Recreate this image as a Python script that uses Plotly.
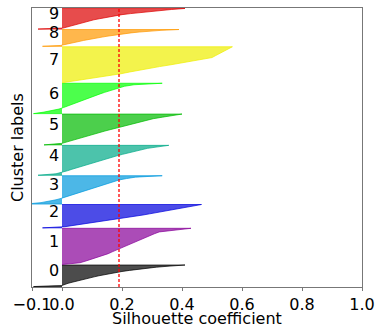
import plotly.graph_objects as go

# ---- data ----
cluster_labels = ["0", "1", "2", "3", "4", "5", "6", "7", "8", "9"]
cluster_sizes = [475, 800, 515, 625, 660, 680, 670, 795, 370, 455]

# sorted silhouette values per cluster, sampled at 21 evenly spaced quantiles (low -> high)
sil_0 = [-0.095, 0.0, 0.008, 0.02, 0.034, 0.047, 0.06, 0.077, 0.092, 0.107, 0.123,
         0.14, 0.16, 0.178, 0.20, 0.225, 0.25, 0.283, 0.315, 0.36, 0.41]
sil_1 = [0.0, 0.06, 0.08, 0.10, 0.12, 0.14, 0.154, 0.167, 0.181, 0.195, 0.208,
         0.221, 0.234, 0.247, 0.26, 0.276, 0.292, 0.308, 0.324, 0.37, 0.43]
sil_2 = [-0.065, 0.01, 0.037, 0.06, 0.086, 0.115, 0.147, 0.178, 0.203, 0.226, 0.248,
         0.27, 0.292, 0.315, 0.338, 0.36, 0.383, 0.405, 0.425, 0.445, 0.465]
sil_3 = [-0.12, -0.07, -0.04, -0.02, -0.003, 0.012, 0.027, 0.041, 0.056, 0.07, 0.085,
         0.10, 0.115, 0.13, 0.145, 0.16, 0.175, 0.19, 0.215, 0.245, 0.334]
sil_4 = [-0.08, -0.02, 0.003, 0.018, 0.033, 0.049, 0.064, 0.079, 0.095, 0.112, 0.13,
         0.148, 0.165, 0.183, 0.202, 0.223, 0.243, 0.263, 0.285, 0.32, 0.356]
sil_5 = [-0.06, 0.0, 0.017, 0.034, 0.051, 0.068, 0.085, 0.104, 0.124, 0.143, 0.163,
         0.182, 0.202, 0.22, 0.24, 0.262, 0.283, 0.304, 0.335, 0.365, 0.40]
sil_6 = [-0.095, -0.06, -0.03, -0.01, 0.005, 0.018, 0.031, 0.044, 0.057, 0.07, 0.083,
         0.097, 0.112, 0.127, 0.142, 0.157, 0.172, 0.187, 0.208, 0.24, 0.334]
sil_7 = [0.0, 0.04, 0.085, 0.123, 0.16, 0.196, 0.226, 0.256, 0.288, 0.325, 0.363,
         0.40, 0.435, 0.468, 0.50, 0.511, 0.522, 0.533, 0.543, 0.555, 0.568]
sil_8 = [-0.065, -0.005, 0.01, 0.022, 0.035, 0.048, 0.06, 0.072, 0.085, 0.10, 0.118,
         0.134, 0.15, 0.167, 0.183, 0.205, 0.23, 0.257, 0.285, 0.33, 0.39]
sil_9 = [-0.08, 0.004, 0.016, 0.028, 0.04, 0.052, 0.064, 0.076, 0.088, 0.106, 0.124,
         0.142, 0.161, 0.18, 0.20, 0.228, 0.258, 0.288, 0.325, 0.365, 0.41]
silhouette_values = [sil_0, sil_1, sil_2, sil_3, sil_4, sil_5, sil_6, sil_7, sil_8, sil_9]
silhouette_avg = 0.19

x_tick_values = [-0.1, 0.0, 0.2, 0.4, 0.6, 0.8, 1.0]

# nipy_spectral(i / 10)
cluster_colors = [(0, 0, 0), (136, 0, 153), (0, 0, 221), (0, 153, 221), (0, 170, 136),
                  (0, 187, 0), (0, 255, 0), (238, 238, 0), (255, 153, 0), (221, 0, 0)]

# ---- figure ----
fig = go.Figure()
gap = 10
y_lower = gap
annotations = []
for lab, size, vals, col in zip(cluster_labels, cluster_sizes, silhouette_values, cluster_colors):
    n = len(vals)
    ys = [y_lower + size * k / (n - 1) for k in range(n)]
    y_upper = y_lower + size
    rgba = "rgba(%d,%d,%d,0.7)" % col
    fig.add_trace(go.Scatter(
        x=[0] + vals + [0], y=[y_lower] + ys + [y_upper],
        mode="lines", fill="toself", fillcolor=rgba,
        line=dict(color=rgba, width=1), hoverinfo="skip", showlegend=False))
    annotations.append(dict(x=-0.05, y=y_lower + 0.5 * size, text=lab, xref="x", yref="y",
                            xanchor="left", yanchor="middle", yshift=5, showarrow=False,
                            font=dict(size=16, color="black", family="DejaVu Sans")))
    y_lower = y_upper + gap

y_max = sum(cluster_sizes) + (len(cluster_sizes) + 1) * gap

annotations.append(dict(x=0.5, y=0, xref="paper", yref="paper", text="Silhouette coefficient",
                        xanchor="center", yanchor="top", yshift=-20, showarrow=False,
                        font=dict(size=16, color="black", family="DejaVu Sans")))
annotations.append(dict(x=0, y=0.5, xref="paper", yref="paper", text="Cluster labels",
                        xanchor="right", yanchor="middle", xshift=-3, textangle=-90, showarrow=False,
                        font=dict(size=16, color="black", family="DejaVu Sans")))

fig.add_shape(type="line", x0=silhouette_avg, x1=silhouette_avg, y0=0, y1=1,
              xref="x", yref="paper", line=dict(color="red", width=1.3, dash="3px,2px"))

fig.update_layout(
    width=382, height=327,
    margin=dict(l=32, r=13, t=7, b=40),
    paper_bgcolor="white", plot_bgcolor="white",
    font=dict(family="DejaVu Sans", size=16, color="black"),
    annotations=annotations,
    showlegend=False,
)
fig.update_xaxes(range=[-0.1, 1.0], tickvals=x_tick_values, tickformat=".1f", tickangle=0,
                 showgrid=False, zeroline=False, showline=True, mirror=True,
                 linecolor="#777", linewidth=1, ticks="outside", ticklen=3, tickcolor="#777",
                 tickfont=dict(size=16))
fig.update_yaxes(range=[0, y_max], showticklabels=False, ticks="", showgrid=False,
                 zeroline=False, showline=True, mirror=True, linecolor="#777", linewidth=1)

fig.write_html("out.html", config={"displayModeBar": False},
               post_script="document.body.style.margin='0px';document.body.style.overflow='hidden';")
